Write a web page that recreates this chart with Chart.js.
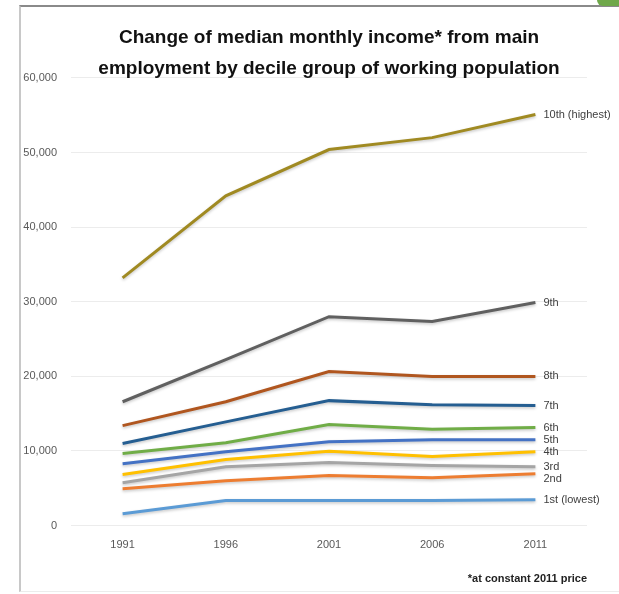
<!DOCTYPE html>
<html>
<head>
<meta charset="utf-8">
<script src="https://cdn.jsdelivr.net/npm/chart.js"></script>
<style>
  html, body { margin: 0; padding: 0; background: #fff; }
  body { width: 619px; height: 594px; position: relative; overflow: hidden; }
  #frame { position: absolute; left: 19px; top: 5px; width: 598px; height: 584px;
           border-top: 2px solid #8a8a8a; border-left: 2px solid #c8c8c8; border-bottom: 1px solid #ececec; }
  #corner { position: absolute; right: 0; top: 0; width: 22px; height: 6px;
            background: #6fa84a; border-bottom-left-radius: 7px; }
  #wrap { position: absolute; left: 21px; top: 7px; width: 596px; height: 582px; }
</style>
</head>
<body>
<div id="frame"></div>
<div id="corner"></div>
<div id="wrap"><canvas id="incomeChart"></canvas></div>
<script>
// data (HK$ per month, constant 2011 prices)
const years = ['1991', '1996', '2001', '2006', '2011'];
const decileNames = ['1st (lowest)', '2nd', '3rd', '4th', '5th', '6th', '7th', '8th', '9th', '10th (highest)'];
const decile1 = [1600, 3350, 3350, 3350, 3450];
const decile2 = [4950, 6000, 6700, 6400, 6950];
const decile3 = [5750, 7900, 8450, 8050, 7900];
const decile4 = [6850, 8850, 9950, 9250, 9900];
const decile5 = [8300, 9900, 11250, 11500, 11500];
const decile6 = [9650, 11100, 13550, 12900, 13150];
const decile7 = [11000, 13900, 16750, 16200, 16100];
const decile8 = [13400, 16600, 20650, 20000, 20000];
const decile9 = [16600, 22250, 28000, 27350, 29900];
const decile10 = [33200, 44200, 50400, 52000, 55100];
const yTicks = [0, 10000, 20000, 30000, 40000, 50000, 60000];

const decileValues = [decile1, decile2, decile3, decile4, decile5, decile6, decile7, decile8, decile9, decile10];
const decileColors = ['#5B9BD5', '#ED7D31', '#A5A5A5', '#FFC000', '#4472C4',
                      '#70AD47', '#255E91', '#B0561F', '#606060', '#A08A22'];

const FONT = "'Liberation Sans', Arial, sans-serif";

// soft shadow under the lines, like the office chart
const lineShadow = {
    id: 'lineShadow',
    beforeDatasetsDraw(chart) {
        const ctx = chart.ctx;
        ctx.save();
        ctx.shadowColor = 'rgba(0,0,0,0.22)';
        ctx.shadowBlur = 3;
        ctx.shadowOffsetY = 1.5;
    },
    afterDatasetsDraw(chart) {
        chart.ctx.restore();
    }
};

// title is centred over the whole frame, not just the area left of the end labels
const titleSpan = {
    id: 'titleSpan',
    afterLayout(chart) {
        const t = chart.titleBlock;
        if (!t) return;
        t.left = 0;
        t.right = 616;
        t.width = 616;
    }
};

// series names written at the end of each line
const endLabels = {
    id: 'endLabels',
    afterDraw(chart) {
        const ctx = chart.ctx;
        const items = chart.data.datasets.map((ds, i) => {
            const pts = chart.getDatasetMeta(i).data;
            const last = pts[pts.length - 1];
            return { text: ds.label, x: last.x + 8, y: last.y };
        }).sort((a, b) => a.y - b.y);

        // keep labels from overlapping
        for (let i = 1; i < items.length; i++) {
            if (items[i].y - items[i - 1].y < 12) items[i].y = items[i - 1].y + 12;
        }

        ctx.save();
        ctx.font = '11px ' + FONT;
        ctx.fillStyle = '#404040';
        ctx.textAlign = 'left';
        ctx.textBaseline = 'middle';
        items.forEach(it => ctx.fillText(it.text, it.x, it.y));
        ctx.restore();
    }
};

const datasets = decileValues.map((vals, i) => ({
    label: decileNames[i],
    data: vals,
    borderColor: decileColors[i],
    backgroundColor: decileColors[i],
    borderWidth: 3,
    pointRadius: 0,
    tension: 0,
    fill: false
}));

new Chart(document.getElementById('incomeChart'), {
    type: 'line',
    data: { labels: years, datasets: datasets },
    plugins: [lineShadow, titleSpan, endLabels],
    options: {
        responsive: true,
        maintainAspectRatio: false,
        animation: false,
        layout: { padding: { left: 0, right: 30, top: 0, bottom: 0 } },
        plugins: {
            legend: { display: false },
            tooltip: { enabled: false },
            title: {
                display: true,
                text: ['Change of median monthly income* from main',
                       'employment by decile group of working population'],
                color: '#111',
                font: { family: FONT, size: 19, weight: 'bold', lineHeight: 1.63 },
                padding: { top: 15, bottom: -6 }
            },
            subtitle: {
                display: true,
                position: 'bottom',
                align: 'end',
                text: '*at constant 2011 price',
                color: '#222',
                font: { family: FONT, size: 11, weight: 'bold', lineHeight: 1.2 },
                padding: { top: 8, bottom: 3 }
            }
        },
        scales: {
            x: {
                offset: true,
                grid: { display: false, drawTicks: false },
                border: { display: false },
                ticks: { color: '#595959', font: { family: FONT, size: 11 }, padding: 13 }
            },
            y: {
                min: 0,
                max: 60000,
                afterFit(scale) { scale.width = 50; },
                afterBuildTicks(scale) { scale.ticks = yTicks.map(v => ({ value: v })); },
                grid: { color: '#ececec', drawTicks: false },
                border: { display: false },
                ticks: {
                    color: '#595959',
                    font: { family: FONT, size: 11 },
                    padding: 14,
                    callback: v => v.toLocaleString('en-US')
                }
            }
        }
    }
});
</script>
</body>
</html>
